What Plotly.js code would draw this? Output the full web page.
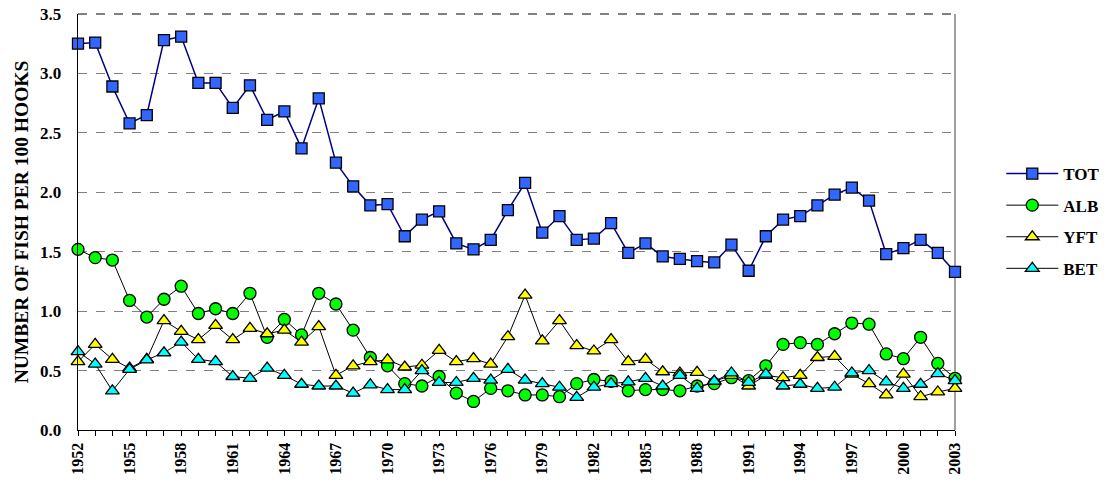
<!DOCTYPE html>
<html><head><meta charset="utf-8">
<script src="https://cdn.plot.ly/plotly-3.0.1.min.js"></script>
<style>body{margin:0;background:#fff}#c{width:1107px;height:489px}</style>
</head><body><div id="c"></div>
<script>
const years = [];
for (let y = 1952; y <= 2003; y++) years.push(y);
const TOT = [3.25,3.26,2.89,2.58,2.65,3.28,3.31,2.92,2.92,2.71,2.90,2.61,2.68,2.37,2.79,2.25,2.05,1.89,1.90,1.63,1.77,1.84,1.57,1.52,1.60,1.85,2.08,1.66,1.80,1.60,1.61,1.74,1.49,1.57,1.46,1.44,1.42,1.41,1.56,1.34,1.63,1.77,1.80,1.89,1.98,2.04,1.93,1.48,1.53,1.60,1.49,1.33];
const ALB = [1.52,1.45,1.43,1.09,0.95,1.10,1.21,0.98,1.02,0.98,1.15,0.78,0.93,0.80,1.15,1.06,0.84,0.61,0.54,0.39,0.37,0.45,0.31,0.24,0.35,0.33,0.295,0.295,0.28,0.39,0.425,0.41,0.33,0.34,0.34,0.33,0.37,0.39,0.44,0.415,0.54,0.72,0.735,0.72,0.81,0.90,0.89,0.64,0.60,0.78,0.56,0.435];
const YFT = [0.575,0.72,0.595,0.52,0.595,0.92,0.83,0.76,0.88,0.76,0.855,0.81,0.84,0.74,0.87,0.46,0.54,0.575,0.59,0.53,0.545,0.67,0.575,0.60,0.555,0.785,1.135,0.75,0.92,0.71,0.665,0.76,0.575,0.595,0.49,0.48,0.485,0.41,0.46,0.37,0.46,0.44,0.46,0.61,0.62,0.47,0.39,0.295,0.47,0.28,0.32,0.35];
const BET = [0.66,0.555,0.33,0.51,0.59,0.65,0.74,0.595,0.575,0.45,0.435,0.52,0.46,0.385,0.37,0.37,0.31,0.38,0.34,0.34,0.50,0.40,0.40,0.435,0.42,0.51,0.42,0.39,0.36,0.275,0.36,0.39,0.405,0.435,0.37,0.46,0.35,0.41,0.48,0.40,0.47,0.37,0.385,0.35,0.36,0.48,0.50,0.405,0.35,0.385,0.475,0.415];
const seriesNames = ["TOT","ALB","YFT","BET"];
const tickLabels = years.map(y => ((y - 1952) % 3 === 0 ? String(y) : ""));
const yTicks = [0,0.5,1,1.5,2,2.5,3,3.5];

const font = "'Liberation Serif', 'Times New Roman', serif";
function tr(name, data, symbol, fill, lineColor, lw, size) {
  return {x: years, y: data, name: name, type: "scatter", mode: "lines+markers",
    legendgroup: name, cliponaxis: false,
    line: {color: lineColor, width: lw},
    marker: {symbol: symbol, color: fill, size: size, line: {color: "#000", width: 1.3}}};
}
const traces = [
  tr(seriesNames[0], TOT, "square", "#3366FF", "#000080", 1.5, 11),
  tr(seriesNames[1], ALB, "circle", "#00FF00", "#000000", 1, 12),
  tr(seriesNames[2], YFT, "triangle-up", "#FFFF00", "#000000", 1, 12),
  tr(seriesNames[3], BET, "triangle-up", "#00FFFF", "#000000", 1, 12)
];
const layout = {
  width: 1107, height: 489,
  margin: {l: 78, r: 152, t: 14, b: 59, autoexpand: false},
  paper_bgcolor: "#fff", plot_bgcolor: "#fff",
  font: {family: font, color: "#000", size: 16},
  showlegend: true,
  legend: {xref: "container", yref: "container", x: 0.9045, y: 0.681, xanchor: "left", yanchor: "top",
    tracegroupgap: 6.5, itemwidth: 52,
    font: {family: font, size: 17, color: "#000", weight: "bold"}, bgcolor: "rgba(0,0,0,0)"},
  xaxis: {range: [1952, 2003], tickmode: "array", tickvals: years, ticktext: tickLabels,
    tickangle: -90, ticks: "outside", ticklen: 5, tickcolor: "#000", showgrid: false,
    showline: true, linecolor: "#000", linewidth: 1.3, zeroline: false,
    tickfont: {family: font, size: 16, weight: "bold"}},
  yaxis: {range: [0, 3.5], tickmode: "array", tickvals: yTicks,
    ticktext: yTicks.map(v => v.toFixed(1)),
    showgrid: true, gridcolor: "#808080", griddash: "dash", gridwidth: 1,
    showline: true, linecolor: "#000", linewidth: 1.3, zeroline: false, ticks: "",
    ticklabelstandoff: 12,
    tickfont: {family: font, size: 17, weight: "bold"},
    title: {text: "NUMBER OF FISH PER 100 HOOKS", font: {family: font, size: 19.5, weight: "bold"}, standoff: 6}},
  shapes: [
    {type: "line", xref: "paper", yref: "paper", x0: 1, x1: 1, y0: 0, y1: 1, line: {color: "#808080", width: 1.5}, layer: "below"},
    {type: "line", xref: "paper", yref: "paper", x0: 0, x1: 1, y0: 1, y1: 1, line: {color: "#808080", width: 2, dash: "dash"}, layer: "below"}
  ]
};
Plotly.newPlot("c", traces, layout, {displayModeBar: false, staticPlot: true});
</script></body></html>
